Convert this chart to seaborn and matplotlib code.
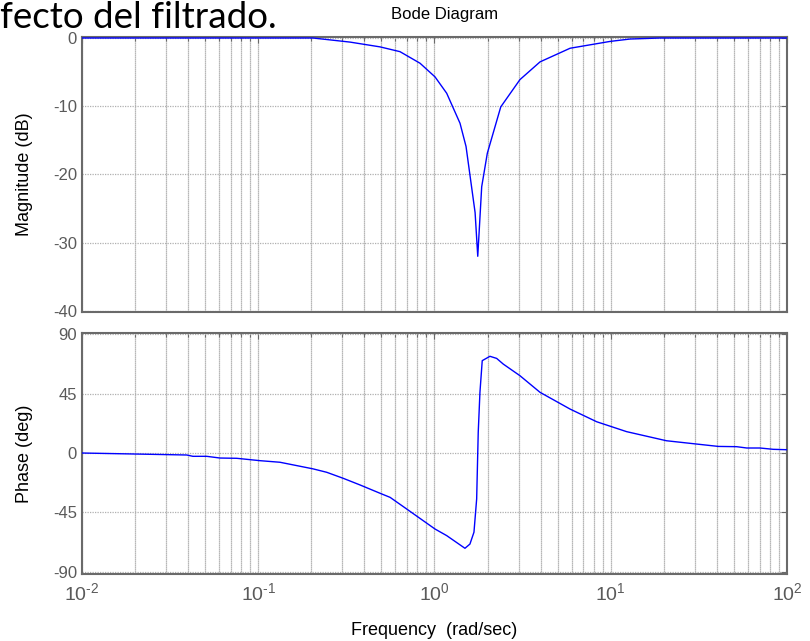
import numpy as np
import pandas as pd
import matplotlib
matplotlib.use("Agg")
import matplotlib.pyplot as plt
import seaborn as sns
from matplotlib.ticker import LogLocator, FixedLocator, FixedFormatter, NullFormatter

# Magnitude response
mag_freq = [0.01, 0.2045, 0.332, 0.491, 0.637, 0.828, 1.007, 1.173, 1.396, 1.51,
            1.70, 1.76, 1.853, 1.994, 2.377, 3.054, 3.97, 5.88, 9.91, 12.86, 19.0, 100.0]
mag_db = [0.0, 0.0, -0.6, -1.3, -2.0, -3.7, -5.7, -8.1, -12.5, -15.9,
          -25.6, -32.0, -21.8, -16.9, -10.1, -6.1, -3.5, -1.5, -0.5, -0.15, 0.0, 0.0]

# Phase response
phase_freq = [0.01, 0.0393, 0.0426, 0.051, 0.0607, 0.0755, 0.1023, 0.1328, 0.2045, 0.2446,
              0.304, 0.378, 0.491, 0.560, 0.695, 1.007, 1.173, 1.489, 1.589, 1.675,
              1.735, 1.771, 1.811, 1.866, 2.064, 2.253, 2.456, 3.054, 3.97, 5.88,
              8.32, 12.3, 20.7, 30.7, 40.8, 51.8, 59.1, 70.3, 83.6, 100.0]
phase_deg = [0.0, -1.5, -2.5, -2.5, -3.8, -4.0, -5.8, -7.0, -12.0, -14.6,
             -19.2, -24.2, -30.5, -33.6, -42.4, -57.6, -62.6, -72.2, -69.0, -60.0,
             -34.8, 15.7, 46.0, 70.0, 73.3, 71.7, 67.4, 58.6, 46.0, 33.3,
             23.7, 16.2, 9.3, 6.8, 5.0, 4.8, 3.8, 3.8, 2.8, 2.5]

mag_ticks = [-40, -30, -20, -10, 0]
phase_ticks = [-90, -45, 0, 45, 90]
freq_ticks = [0.01, 0.1, 1, 10, 100]
freq_labels = ['$10^{\\text{-}2}$', '$10^{\\text{-}1}$', '$10^{0}$', '$10^{1}$', '$10^{2}$']

sns.set_style("white")
plt.rcParams['font.family'] = ['Liberation Sans', 'DejaVu Sans']
plt.rcParams['mathtext.fontset'] = 'custom'
plt.rcParams['mathtext.rm'] = 'Liberation Sans'
plt.rcParams['mathtext.it'] = 'Liberation Sans'
plt.rcParams['mathtext.default'] = 'rm'
plt.rcParams['axes.unicode_minus'] = False

fig = plt.figure(figsize=(8.1, 6.41), dpi=100)
ax1 = fig.add_axes([0.1012, 0.5140, 0.8704, 0.4283])
ax2 = fig.add_axes([0.1012, 0.1045, 0.8704, 0.3765])

mag_df = pd.DataFrame({'freq': mag_freq, 'val': mag_db})
ph_df = pd.DataFrame({'freq': phase_freq, 'val': phase_deg})

spine_c = '#6a6a6a'
label_c = '#5a5a5a'
vgrid_c = '#a0a0a0'
hgrid_c = '#b0b0b0'

for ax, df, ticks, ylim in [(ax1, mag_df, mag_ticks, (-40.1, 0.15)),
                            (ax2, ph_df, phase_ticks, (-91.7, 91.2))]:
    ax.set_xscale('log')
    sns.lineplot(data=df, x='freq', y='val', ax=ax, color='#0000ff', lw=1.0,
                 sort=False, estimator=None, zorder=5)
    ax.set_xlim(0.01, 100)
    ax.set_ylim(*ylim)
    ax.yaxis.set_major_locator(FixedLocator(ticks))
    ax.xaxis.set_major_locator(FixedLocator(freq_ticks))
    ax.xaxis.set_major_formatter(FixedFormatter(freq_labels))
    ax.xaxis.set_minor_locator(LogLocator(base=10, subs=np.arange(2, 10), numticks=20))
    ax.xaxis.set_minor_formatter(NullFormatter())
    ax.grid(True, which='both', axis='x', color=vgrid_c, lw=0.9, linestyle=(0, (1, 0.6)))
    ax.grid(True, which='major', axis='y', color=hgrid_c, lw=0.9, linestyle=(0, (1, 1)))
    ax.tick_params(which='major', direction='in', top=True, right=True, length=4,
                   width=0.8, color=spine_c, labelcolor=label_c)
    ax.tick_params(axis='y', labelsize=12)
    ax.tick_params(axis='x', labelsize=14, pad=6)
    ax.tick_params(which='minor', direction='in', top=True, right=True, length=3,
                   width=0.8, color=spine_c)
    for s in ax.spines.values():
        s.set_color(spine_c)
        s.set_linewidth(1.5)
    ax.set_xlabel('')
    ax.set_ylabel('')

ax1.tick_params(labelbottom=False)

ax1.set_ylabel('Magnitude (dB)', fontsize=13, color='black')
ax2.set_ylabel('Phase (deg)', fontsize=13, color='black')
ax1.yaxis.set_label_coords(-0.0695, 0.5)
ax2.yaxis.set_label_coords(-0.0695, 0.5)
ax2.set_xlabel('Frequency  (rad/sec)', fontsize=13, color='black')
ax2.xaxis.set_label_coords(0.5, -0.2)

fig.text(445 / 810, 1 - 14 / 641, 'Bode Diagram', ha='center', va='center',
         fontsize=12, color='black')
fig.text(0.0, 1 - 28 / 641, 'fecto del filtrado.', ha='left', va='baseline',
         fontsize=26.5, color='black', family=['Lato', 'DejaVu Sans'])

fig.savefig('out.png', dpi=100)
